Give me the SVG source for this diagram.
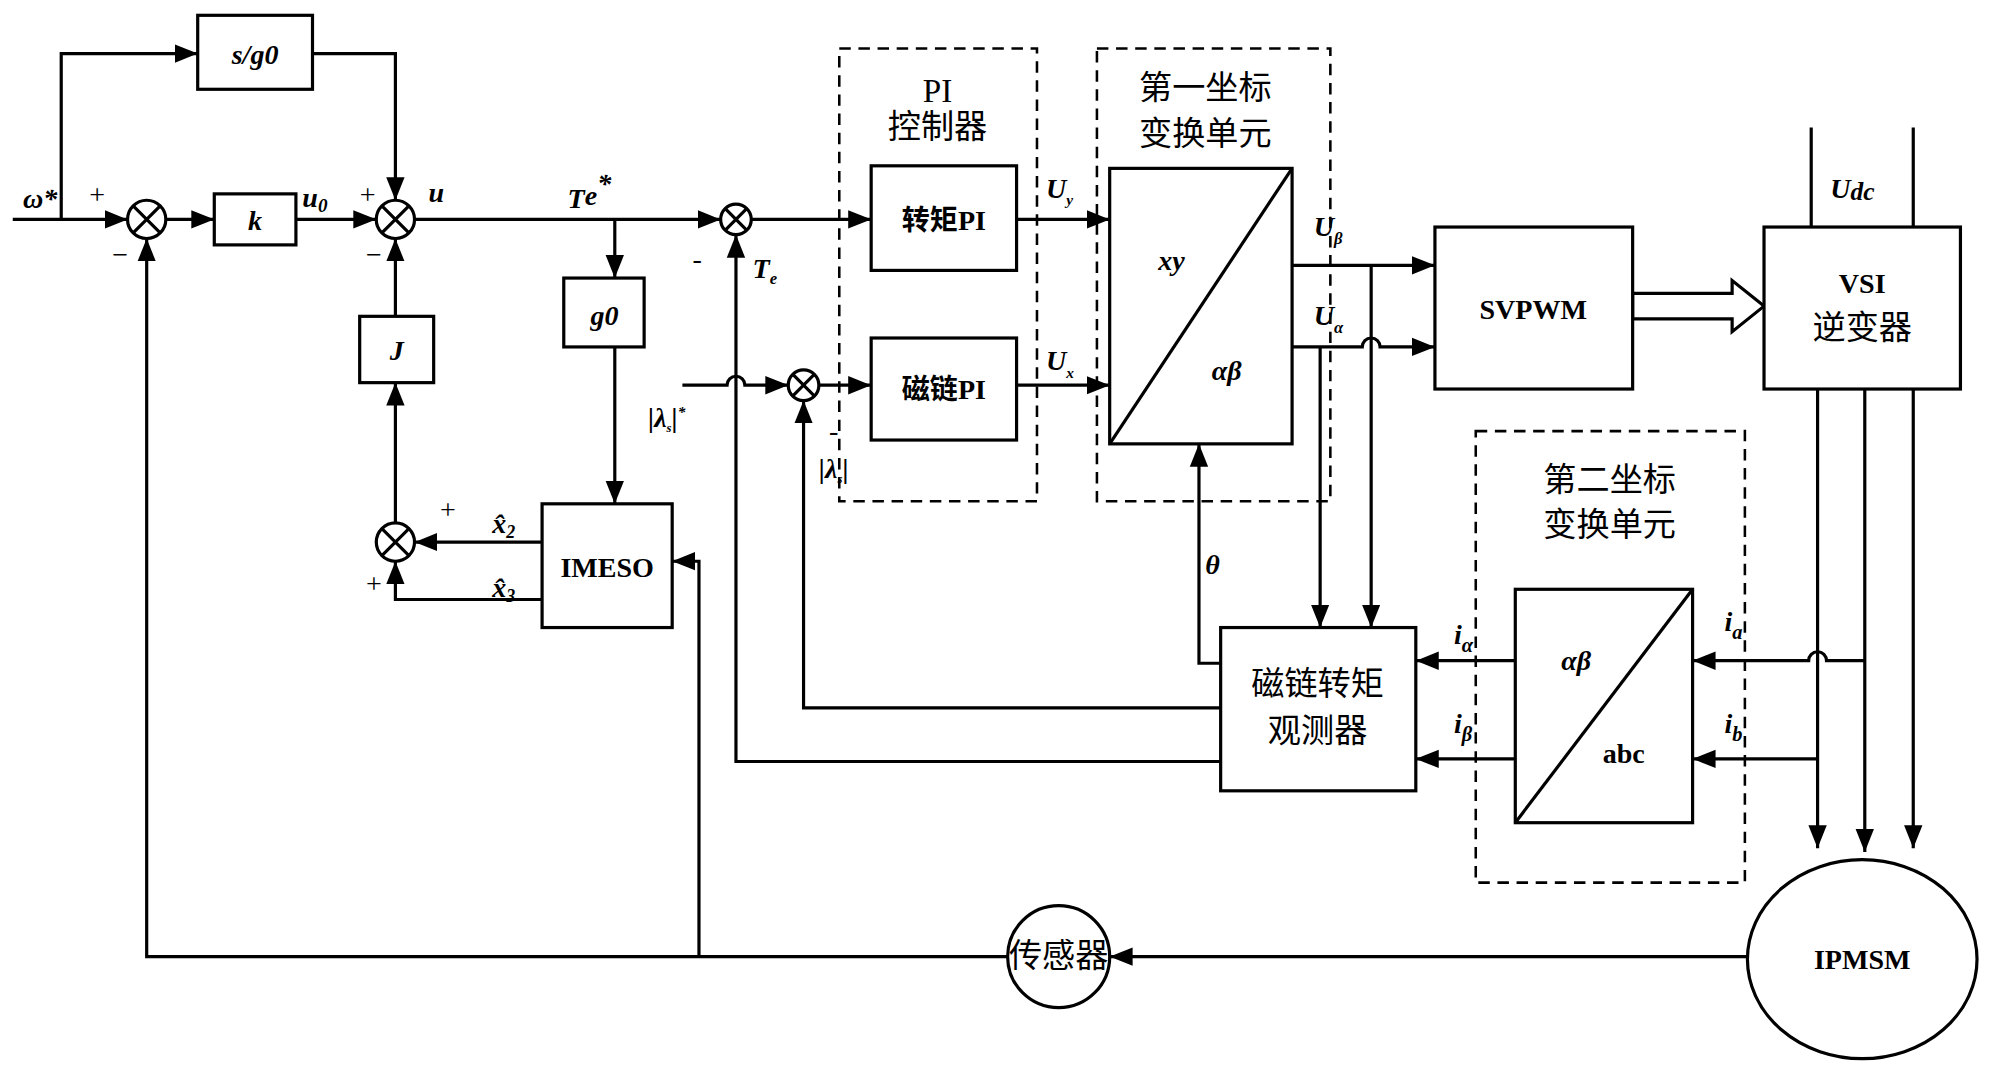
<svg xmlns="http://www.w3.org/2000/svg" width="2000" height="1070" viewBox="0 0 2000 1070">
<style>
.l{fill:none;stroke:#000;stroke-width:2.5}
.b{fill:#fff;stroke:#000;stroke-width:2.5}
.d{fill:none;stroke:#000;stroke-width:2;stroke-dasharray:9 6}
.m{font-family:"Liberation Serif",serif;font-style:italic;font-weight:bold;font-size:22px}
.t{font-family:"Liberation Serif","Noto Sans CJK SC",serif;font-weight:bold;font-size:22px;text-anchor:middle}
.c{font-family:"Liberation Serif","Noto Sans CJK SC",serif;font-size:26px;text-anchor:middle}
.p{font-family:"Liberation Serif",serif;font-size:22px}
</style>
<defs>
<marker id="A" viewBox="0 0 10 10" refX="10" refY="5" markerWidth="18" markerHeight="18" markerUnits="userSpaceOnUse" orient="auto"><path d="M0,1L10,5L0,9z"/></marker>
</defs>
<rect width="2000" height="1070" fill="#fff"/>
<g transform="scale(1.2755)">
<g id="connectors">
<path class="l" d="M10,172H100" marker-end="url(#A)"/>
<path class="l" d="M48,172V42H155" marker-end="url(#A)"/>
<path class="l" d="M245,42H310V157" marker-end="url(#A)"/>
<path class="l" d="M130,172H168" marker-end="url(#A)"/>
<path class="l" d="M232,172H295" marker-end="url(#A)"/>
<path class="l" d="M325,172H565" marker-end="url(#A)"/>
<path class="l" d="M482,172V218" marker-end="url(#A)"/>
<path class="l" d="M482,272V395" marker-end="url(#A)"/>
<path class="l" d="M310,410V300" marker-end="url(#A)"/>
<path class="l" d="M310,248V187" marker-end="url(#A)"/>
<path class="l" d="M425,425H325" marker-end="url(#A)"/>
<path class="l" d="M425,470H310V440" marker-end="url(#A)"/>
<path class="l" d="M548,750V440H527" marker-end="url(#A)"/>
<path class="l" d="M790,750H115V187" marker-end="url(#A)"/>
<path class="l" d="M1372,750H870" marker-end="url(#A)"/>
<path class="l" d="M589,172H683" marker-end="url(#A)"/>
<path class="l" d="M957,597H577V184" marker-end="url(#A)"/>
<path class="l" d="M535,302H570a7,7 0 0 1 14,0H618" marker-end="url(#A)"/>
<path class="l" d="M642,302H683" marker-end="url(#A)"/>
<path class="l" d="M957,555H630V314" marker-end="url(#A)"/>
<path class="l" d="M797,172H870" marker-end="url(#A)"/>
<path class="l" d="M797,302H870" marker-end="url(#A)"/>
<path class="l" d="M1013,208H1125" marker-end="url(#A)"/>
<path class="l" d="M1013,272H1068a7,7 0 0 1 14,0H1125" marker-end="url(#A)"/>
<path class="l" d="M1035,272V492" marker-end="url(#A)"/>
<path class="l" d="M1075,208V492" marker-end="url(#A)"/>
<path class="l" d="M957,520H940V348" marker-end="url(#A)"/>
<path class="b" d="M1280,230H1358V220L1383,240L1358,260V250H1280z"/>
<path class="l" d="M1420,100V178M1500,100V178"/>
<path class="l" d="M1425,305V665" marker-end="url(#A)"/>
<path class="l" d="M1462,305V668" marker-end="url(#A)"/>
<path class="l" d="M1500,305V665" marker-end="url(#A)"/>
<path class="l" d="M1462,518H1432a7,7 0 0 0 -14,0H1327" marker-end="url(#A)"/>
<path class="l" d="M1425,595H1327" marker-end="url(#A)"/>
<path class="l" d="M1188,518H1110" marker-end="url(#A)"/>
<path class="l" d="M1188,595H1110" marker-end="url(#A)"/>
</g>
<g id="sums" class="l">
<g id="s1"><circle cx="115" cy="172" r="15" class="b"/><path d="M104,161L126,183M126,161L104,183"/></g>
<g id="s2"><circle cx="310" cy="172" r="15" class="b"/><path d="M299,161L321,183M321,161L299,183"/></g>
<g id="s3"><circle cx="577" cy="172" r="12" class="b"/><path d="M569,164L585,180M585,164L569,180"/></g>
<g id="s4"><circle cx="310" cy="425" r="15" class="b"/><path d="M299,414L321,436M321,414L299,436"/></g>
<g id="s5"><circle cx="630" cy="302" r="12" class="b"/><path d="M622,294L638,310M638,294L622,310"/></g>
</g>
<g id="sg0"><rect class="b" x="155" y="12" width="90" height="58"/><text class="m" x="200" y="50" text-anchor="middle">s/g0</text></g>
<g id="k"><rect class="b" x="168" y="152" width="64" height="40"/><text class="m" x="200" y="180" text-anchor="middle">k</text></g>
<g id="J"><rect class="b" x="282" y="248" width="58" height="52"/><text class="m" x="311" y="282" text-anchor="middle">J</text></g>
<g id="g0"><rect class="b" x="442" y="218" width="63" height="54"/><text class="m" x="474" y="255" text-anchor="middle">g0</text></g>
<g id="imeso"><rect class="b" x="425" y="395" width="102" height="97"/><text class="t" x="476" y="452">IMESO</text></g>
<g id="pi"><rect class="d" x="658" y="38" width="155" height="355"/><text class="c" x="735" y="80">PI</text><text class="c" x="735" y="108">控制器</text>
<rect class="b" x="683" y="130" width="114" height="82"/><text class="t" x="740" y="180">转矩PI</text>
<rect class="b" x="683" y="265" width="114" height="80"/><text class="t" x="740" y="313">磁链PI</text></g>
<g id="ct1"><rect class="d" x="860" y="38" width="183" height="355"/><text class="c" x="945" y="78">第一坐标</text><text class="c" x="945" y="114">变换单元</text>
<rect class="b" x="870" y="132" width="143" height="216"/><path class="l" d="M870,348L1013,132"/>
<text class="m" x="908" y="212">xy</text><text class="m" x="950" y="298">αβ</text></g>
<g id="svpwm"><rect class="b" x="1125" y="178" width="155" height="127"/><text class="t" x="1202" y="250">SVPWM</text></g>
<g id="vsi"><rect class="b" x="1383" y="178" width="154" height="127"/><text class="t" x="1460" y="230">VSI</text><text class="c" x="1460" y="266">逆变器</text></g>
<g id="obs"><rect class="b" x="957" y="492" width="153" height="128"/><text class="c" x="1033" y="545">磁链转矩</text><text class="c" x="1033" y="582">观测器</text></g>
<g id="ct2"><rect class="d" x="1157" y="338" width="211" height="354"/><text class="c" x="1262" y="385">第二坐标</text><text class="c" x="1262" y="420">变换单元</text>
<rect class="b" x="1188" y="462" width="139" height="183"/><path class="l" d="M1188,645L1327,462"/>
<text class="m" x="1224" y="525">αβ</text><text class="t" x="1273" y="598">abc</text></g>
<g id="sensor"><circle class="b" cx="830" cy="750" r="40"/><text class="c" x="830" y="758" font-size="22">传感器</text></g>
<g id="ipmsm"><ellipse class="b" cx="1460" cy="752" rx="90" ry="78"/><text class="t" x="1460" y="760">IPMSM</text></g>
<g id="labels">
<text class="m" x="18" y="163" font-size="18">ω*</text>
<text class="p" x="70" y="160" font-size="24">+</text><text class="p" x="88" y="207" font-size="24">−</text>
<text class="m" x="237" y="162">u<tspan font-size="15" dy="4">0</tspan></text>
<text class="p" x="282" y="160" font-size="24">+</text><text class="p" x="287" y="207" font-size="24">−</text>
<text class="m" x="336" y="158">u</text>
<text class="m" x="445" y="163">T<tspan dy="-2">e</tspan><tspan dy="-10">*</tspan></text>
<text class="p" x="543" y="210">-</text>
<text class="m" x="590" y="218">T<tspan font-size="13" dy="5">e</tspan></text>
<text class="m" x="508" y="335" font-size="18">|λ<tspan font-size="10" dy="4">s</tspan><tspan dy="-4">|</tspan><tspan font-size="12" dy="-8">*</tspan></text>
<text class="p" x="650" y="345">-</text>
<text class="m" x="642" y="375" font-size="18">|λ<tspan font-size="10" dy="4">s</tspan><tspan dy="-4">|</tspan></text>
<text class="p" x="345" y="407" font-size="24">+</text><text class="p" x="287" y="465" font-size="24">+</text>
<text class="m" x="386" y="418" font-weight="normal">x̂<tspan font-size="14" dy="4">2</tspan></text>
<text class="m" x="386" y="468" font-weight="normal">x̂<tspan font-size="14" dy="4">3</tspan></text>
<text class="m" x="820" y="155">U<tspan font-size="12" dy="6">y</tspan></text>
<text class="m" x="820" y="290">U<tspan font-size="12" dy="6">x</tspan></text>
<text class="m" x="1030" y="185">U<tspan font-size="13" dy="6">β</tspan></text>
<text class="m" x="1030" y="255">U<tspan font-size="13" dy="6">α</tspan></text>
<text class="m" x="945" y="450" font-size="28">θ</text>
<text class="m" x="1435" y="155" font-size="30">U<tspan font-size="20" dy="2">dc</tspan></text>
<text class="m" x="1140" y="505" font-size="26">i<tspan font-size="16" dy="6">α</tspan></text>
<text class="m" x="1140" y="575" font-size="26">i<tspan font-size="16" dy="6">β</tspan></text>
<text class="m" x="1352" y="495" font-size="26">i<tspan font-size="16" dy="6">a</tspan></text>
<text class="m" x="1352" y="575" font-size="26">i<tspan font-size="16" dy="6">b</tspan></text>
</g>
</g>
</svg>
